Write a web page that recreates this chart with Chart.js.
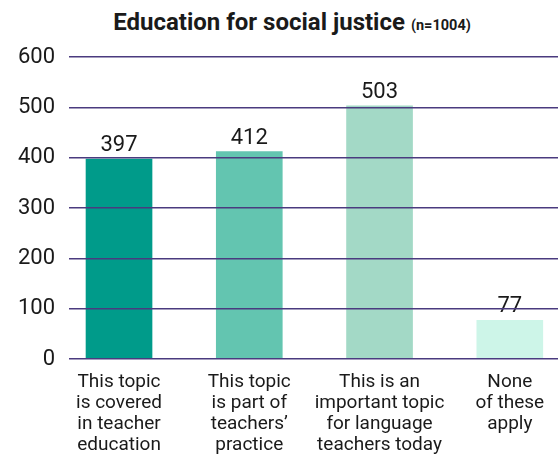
<!DOCTYPE html>
<html>
<head>
<meta charset="utf-8">
<script src="https://cdn.jsdelivr.net/npm/chart.js@4/dist/chart.umd.min.js"></script>
<style>
  html, body { margin: 0; padding: 0; background: #fff; }
  #wrap { position: relative; width: 558px; height: 454px; overflow: hidden; }
  #title {
    position: absolute; left: 0; top: 8px; width: 584px; text-align: center;
    font-family: Roboto, sans-serif; font-weight: 700; font-size: 24px; color: #1a1a1a;
    white-space: nowrap;
  }
  #title small { font-size: 14.5px; font-weight: 700; }
  #chartBox { position: absolute; left: 0; top: 0; width: 558px; height: 454px; }
</style>
</head>
<body>
<div id="wrap">
  <div id="title">Education for social justice <small>(n=1004)</small></div>
  <div id="chartBox"><canvas id="bars"></canvas></div>
</div>
<script>
const categories = [
  ['This topic', 'is covered', 'in teacher', 'education'],
  ['This topic', 'is part of', 'teachers\u2019', 'practice'],
  ['This is an', 'important topic', 'for language', 'teachers today'],
  ['None', 'of these', 'apply']
];
const counts = [397, 412, 503, 77];
const barColors = ['#009b8a', '#63c5b0', '#a3d9c6', '#cdf5e8'];
const yTicks = [0, 100, 200, 300, 400, 500, 600];

const FONT = 'Roboto, sans-serif';

// value labels above each bar
const valueLabels = {
  id: 'valueLabels',
  afterDatasetsDraw(chart){
    const {ctx} = chart;
    const meta = chart.getDatasetMeta(0);
    ctx.save();
    ctx.font = '22px ' + FONT;
    ctx.fillStyle = '#1a1a1a';
    ctx.textAlign = 'center';
    ctx.textBaseline = 'alphabetic';
    meta.data.forEach((bar, i) => {
      ctx.fillText(String(counts[i]), bar.x, bar.y - 8);
    });
    ctx.restore();
  }
};

new Chart(document.getElementById('bars'), {
  type: 'bar',
  data: {
    datasets: [{
      data: counts.map((v, i) => ({x: i, y: v})),
      backgroundColor: barColors,
      barThickness: 66
    }]
  },
  options: {
    responsive: true,
    maintainAspectRatio: false,
    animation: false,
    layout: { padding: { top: 57, right: 0, left: 0, bottom: 0 } },
    plugins: { legend: { display: false }, tooltip: { enabled: false } },
    scales: {
      x: {
        type: 'linear',
        offset: false,
        min: -0.384,
        max: 3.37,
        grid: { display: false },
        border: { display: false },
        afterBuildTicks(scale){
          scale.ticks = categories.map((_, i) => ({value: i}));
        },
        afterFit(scale){ scale.height = 95; },
        ticks: {
          padding: 5,
          maxRotation: 0,
          autoSkip: false,
          color: '#1a1a1a',
          font: { family: FONT, size: 19, lineHeight: 1.1 },
          callback: (v) => categories[v] || ''
        }
      },
      y: {
        min: 0,
        max: 600,
        afterBuildTicks(scale){
          scale.ticks = yTicks.map(v => ({value: v}));
        },
        afterFit(scale){ scale.width = 69; },
        border: { display: false },
        grid: { color: '#4a3b7f', lineWidth: 1.5, drawTicks: false, z: 1 },
        ticks: {
          padding: 14,
          color: '#1a1a1a',
          font: { family: FONT, size: 22 }
        }
      }
    }
  },
  plugins: [valueLabels]
});
</script>
</body>
</html>
